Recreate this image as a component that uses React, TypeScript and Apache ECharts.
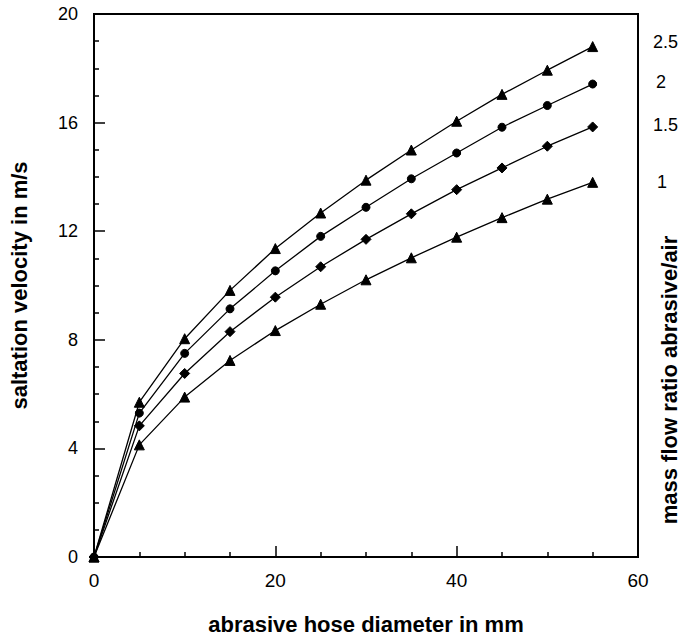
import React, { useEffect, useRef } from "react";
import * as echarts from "echarts";

const diameters = [0, 5, 10, 15, 20, 25, 30, 35, 40, 45, 50, 55];
const ratioNames = ["2.5", "2", "1.5", "1"];
const ratioSymbols = ["triangle", "circle", "diamond", "triangle"];
const ratio25 = [0, 5.7, 8.04, 9.82, 11.36, 12.67, 13.88, 14.99, 16.05, 17.04, 17.93, 18.8];
const ratio20 = [0, 5.3, 7.5, 9.14, 10.54, 11.81, 12.88, 13.93, 14.88, 15.83, 16.63, 17.42];
const ratio15 = [0, 4.83, 6.76, 8.3, 9.57, 10.69, 11.7, 12.64, 13.53, 14.33, 15.13, 15.84];
const ratio10 = [0, 4.13, 5.89, 7.24, 8.34, 9.31, 10.21, 11.02, 11.78, 12.5, 13.18, 13.8];
const ratioValues = [ratio25, ratio20, ratio15, ratio10];

export default function App() {
  const ref = useRef<HTMLDivElement>(null);
  useEffect(() => {
    if (!ref.current) return;
    document.body.style.margin = "0";
    const chart = echarts.init(ref.current, undefined, { renderer: "svg" });
    const font = "Liberation Sans, Arial, sans-serif";
    chart.setOption({
      animation: false,
      backgroundColor: "#ffffff",
      textStyle: { fontFamily: font },
      grid: {
        left: 92,
        right: 43,
        top: 14,
        bottom: 79,
        show: true,
        borderColor: "#000",
        borderWidth: 2,
        backgroundColor: "transparent",
      },
      xAxis: {
        type: "value",
        min: 0,
        max: 60,
        interval: 20,
        name: "abrasive hose diameter in mm",
        nameLocation: "middle",
        nameGap: 56,
        nameTextStyle: { fontSize: 22, fontWeight: "bold", color: "#000", fontFamily: font },
        axisLine: { show: true, lineStyle: { color: "#000", width: 2 } },
        axisTick: { show: true, inside: true, length: 11, lineStyle: { color: "#000", width: 1.5 } },
        minorTick: { show: true, splitNumber: 4, length: 5, lineStyle: { color: "#000", width: 1.5 } },
        axisLabel: { color: "#000", fontSize: 19, margin: 14, fontFamily: font },
        splitLine: { show: false },
      },
      yAxis: {
        type: "value",
        min: 0,
        max: 20,
        interval: 4,
        name: "saltation velocity in m/s",
        nameLocation: "middle",
        nameGap: 64,
        nameTextStyle: { fontSize: 22, fontWeight: "bold", color: "#000", fontFamily: font },
        axisLine: { show: true, lineStyle: { color: "#000", width: 2 } },
        axisTick: { show: true, inside: true, length: 11, lineStyle: { color: "#000", width: 1.5 } },
        minorTick: { show: true, splitNumber: 4, length: 5, lineStyle: { color: "#000", width: 1.5 } },
        axisLabel: { color: "#000", fontSize: 18, margin: 16, fontFamily: font },
        splitLine: { show: false },
      },
      series: ratioNames.map((name, i) => ({
        type: "line",
        name,
        data: diameters.map((d, j) => [d, ratioValues[i][j]]),
        symbol: ratioSymbols[i],
        symbolSize: ratioSymbols[i] === "circle" ? 8 : 10,
        showSymbol: true,
        lineStyle: { color: "#000", width: 1.3 },
        itemStyle: { color: "#000", borderColor: "#000" },
        emphasis: { disabled: true },
      })),
    });

    const labelX = [653, 656, 653, 657];
    const labelDy = [-5, -2, -2, 0];
    const graphics: any[] = ratioNames.map((name, i) => {
      const last = ratioValues[i][ratioValues[i].length - 1];
      const py = chart.convertToPixel({ gridIndex: 0 }, [0, last])[1];
      return {
        type: "text",
        x: labelX[i],
        y: py + labelDy[i],
        style: {
          text: name,
          fontSize: 18,
          fontFamily: font,
          fill: "#000",
          align: "left",
          verticalAlign: "middle",
        },
      };
    });
    graphics.push({
      type: "text",
      x: 669,
      y: 380,
      rotation: Math.PI / 2,
      style: {
        text: "mass flow ratio abrasive/air",
        fontSize: 22,
        fontWeight: "bold",
        fontFamily: font,
        fill: "#000",
        align: "center",
        verticalAlign: "middle",
      },
    });
    chart.setOption({ graphic: graphics });
    return () => chart.dispose();
  }, []);
  return <div ref={ref} style={{ width: 681, height: 640 }} />;
}
